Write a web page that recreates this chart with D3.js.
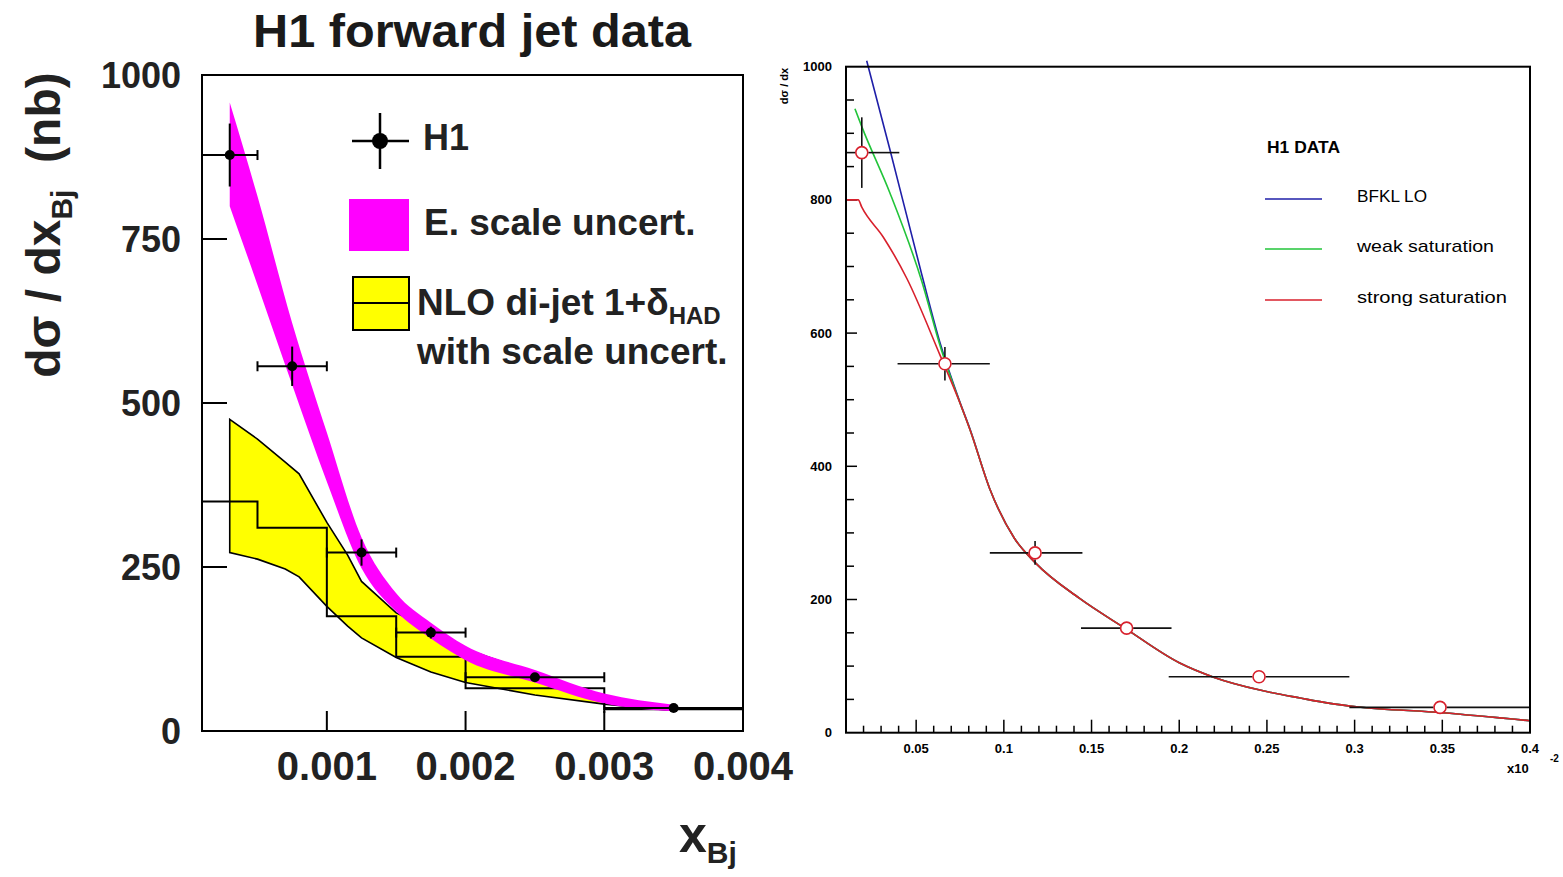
<!DOCTYPE html>
<html><head><meta charset="utf-8">
<script src="https://cdn.jsdelivr.net/npm/d3@7/dist/d3.min.js"></script>
<style>
body{margin:0;background:#fff}
svg{display:block}
text{font-family:"Liberation Sans",Arial,Helvetica,sans-serif}
</style></head>
<body><svg id="c" width="1563" height="877"></svg>
<script>
// ---------------- LEFT PANEL DATA ----------------
const leftXTicks = [0.001, 0.002, 0.003, 0.004];
const leftXTickLabels = ["0.001", "0.002", "0.003", "0.004"];
const leftYTicks = [0, 250, 500, 750, 1000];
const leftYTickLabels = ["0", "250", "500", "750", "1000"];

const h1X     = [0.0003, 0.00075, 0.00125, 0.00175, 0.0025, 0.0035];
const h1XLow  = [0.0001, 0.0005, 0.001, 0.0015, 0.002, 0.003];
const h1XHigh = [0.0005, 0.001, 0.0015, 0.002, 0.003, 0.004];
const h1Y     = [878, 556, 272, 150, 82, 35];
const h1Err   = [48, 30, 20, 9, 6, 4];

const escaleX  = [0.0003, 0.0005, 0.00075, 0.001, 0.00125, 0.0015, 0.00175, 0.002, 0.0025, 0.003, 0.0035];
const escaleUp = [958, 815, 622, 455, 295, 210, 165, 130, 93, 57, 40];
const escaleLo = [800, 680, 528, 380, 248, 182, 141, 108, 74, 42, 30];

const nloX  = [0.0003, 0.0005, 0.0007, 0.0008, 0.001, 0.00115, 0.00125, 0.0015, 0.00175, 0.002, 0.0025, 0.003, 0.0035];
const nloUp = [475, 445, 410, 392, 318, 268, 228, 180, 155, 125, 88, 52, 36];
const nloLo = [272, 262, 247, 235, 190, 160, 142, 112, 90, 74, 55, 41, 31];

const nloEdges = [0.0001, 0.0005, 0.001, 0.0015, 0.002, 0.003, 0.004];
const nloCentral = [350, 310, 175, 113, 65, 33];

// ---------------- RIGHT PANEL DATA ----------------
const rightXMajor = [0.05, 0.1, 0.15, 0.2, 0.25, 0.3, 0.35, 0.4];
const rightXLabels = ["0.05", "0.1", "0.15", "0.2", "0.25", "0.3", "0.35", "0.4"];
const rightYMajor = [0, 200, 400, 600, 800, 1000];
const rightYLabels = ["0", "200", "400", "600", "800", "1000"];

const rDataX     = [0.019, 0.0664, 0.1178, 0.17, 0.2455, 0.3487];
const rDataXLow  = [0.01, 0.0394, 0.092, 0.144, 0.194, 0.297];
const rDataXHigh = [0.0404, 0.092, 0.1448, 0.1956, 0.297, 0.4];
const rDataY     = [871, 554, 270, 157, 84, 38];
const rDataErr   = [53, 25, 18, 8, 5, 3];

const bfklX = [0.0218, 0.0351, 0.0532, 0.064, 0.075, 0.0807, 0.092, 0.106, 0.118, 0.143, 0.169, 0.2, 0.22, 0.246, 0.269, 0.286, 0.301, 0.35, 0.4];
const bfklY = [1009, 875, 688, 582, 496, 456, 366, 292, 255, 202, 157, 105, 83, 64, 52, 44, 39, 30, 18];
const weakX = [0.0151, 0.019, 0.0351, 0.0532, 0.064, 0.075, 0.0807, 0.092, 0.106, 0.118, 0.143, 0.169, 0.2, 0.22, 0.246, 0.269, 0.286, 0.301, 0.35, 0.4];
const weakY = [937, 910, 810, 678, 578, 495, 455, 366, 292, 255, 202, 157, 105, 83, 64, 52, 44, 39, 30, 18];
const strongX = [0.0104, 0.017, 0.019, 0.0313, 0.0447, 0.0636, 0.075, 0.0807, 0.092, 0.106, 0.118, 0.143, 0.169, 0.2, 0.22, 0.246, 0.269, 0.286, 0.301, 0.35, 0.4];
const strongY = [800, 800, 789, 744, 682, 567, 495, 455, 366, 292, 255, 202, 157, 105, 83, 64, 52, 44, 39, 30, 18];

const legendNames = ["BFKL LO", "weak saturation", "strong saturation"];

// ---------------- DRAW ----------------
const svg = d3.select("#c");
svg.append("rect").attr("width", 1563).attr("height", 877).attr("fill", "#fff");

// ===== LEFT =====
const xL = d3.scaleLinear().domain([0.0001, 0.004]).range([202, 743]);
const yL = d3.scaleLinear().domain([0, 1000]).range([731, 75]);
const L = svg.append("g");

L.append("text").attr("x", 472).attr("y", 47).attr("text-anchor", "middle")
  .attr("font-size", 47).attr("font-weight", "bold").attr("textLength", 438)
  .attr("lengthAdjust", "spacingAndGlyphs").attr("fill", "#1a1a1a").text("H1 forward jet data");

// yellow NLO band
const nloPts = nloX.map((x, i) => [x, nloUp[i], nloLo[i]]);
const poly = nloPts.map(d => [xL(d[0]), yL(d[1])]).concat(nloPts.slice().reverse().map(d => [xL(d[0]), yL(d[2])]));
L.append("path").attr("d", "M" + poly.join("L") + "Z")
  .attr("fill", "#ffff00").attr("stroke", "#000").attr("stroke-width", 1.6);

// NLO central step
const stepPts = [];
nloCentral.forEach((v, i) => { stepPts.push([nloEdges[i], v]); stepPts.push([nloEdges[i + 1], v]); });
L.append("path").datum(stepPts)
  .attr("d", d3.line().x(d => xL(d[0])).y(d => yL(d[1])))
  .attr("fill", "none").attr("stroke", "#000").attr("stroke-width", 2);

// magenta E-scale band
const escPts = escaleX.map((x, i) => [x, escaleUp[i], escaleLo[i]]);
L.append("path").datum(escPts)
  .attr("d", d3.area().x(d => xL(d[0])).y0(d => yL(d[2])).y1(d => yL(d[1])).curve(d3.curveMonotoneX))
  .attr("fill", "#ff00ff");

// frame
L.append("rect").attr("x", 202).attr("y", 75).attr("width", 541).attr("height", 656)
  .attr("fill", "none").attr("stroke", "#000").attr("stroke-width", 2);

// ticks
leftXTicks.forEach((t, i) => {
  if (t < 0.004) L.append("line").attr("x1", xL(t)).attr("x2", xL(t)).attr("y1", 731).attr("y2", 711)
    .attr("stroke", "#000").attr("stroke-width", 2);
  L.append("text").attr("x", xL(t)).attr("y", 780).attr("text-anchor", "middle")
    .attr("font-size", 40).attr("font-weight", "bold").attr("fill", "#222").text(leftXTickLabels[i]);
});
leftYTicks.forEach((t, i) => {
  if (t > 0 && t < 1000) L.append("line").attr("x1", 202).attr("x2", 227).attr("y1", yL(t)).attr("y2", yL(t))
    .attr("stroke", "#000").attr("stroke-width", 2);
  L.append("text").attr("x", 181).attr("y", yL(t) + 13).attr("text-anchor", "end")
    .attr("font-size", 36).attr("font-weight", "bold").attr("fill", "#222").text(leftYTickLabels[i]);
});

// axis titles
const yt = L.append("text").attr("transform", "translate(60,225) rotate(-90)").attr("text-anchor", "middle")
  .attr("font-size", 48).attr("font-weight", "bold").attr("fill", "#222");
yt.append("tspan").text("dσ / dx");
yt.append("tspan").attr("font-size", 30).attr("dy", 12).text("Bj");
yt.append("tspan").attr("dy", -12).text("\u00a0\u00a0(nb)");

const xt = L.append("text").attr("x", 679).attr("y", 852).attr("font-weight", "bold").attr("fill", "#222");
xt.append("tspan").attr("font-size", 50).text("x");
xt.append("tspan").attr("font-size", 30).attr("dy", 11).text("Bj");

// H1 data points
h1X.forEach((x, i) => {
  const cx = xL(x), cy = yL(h1Y[i]);
  const g = L.append("g").attr("stroke", "#000").attr("stroke-width", 2);
  g.append("line").attr("x1", xL(h1XLow[i])).attr("x2", xL(h1XHigh[i])).attr("y1", cy).attr("y2", cy);
  g.append("line").attr("x1", cx).attr("x2", cx).attr("y1", yL(h1Y[i] + h1Err[i])).attr("y2", yL(h1Y[i] - h1Err[i]));
  [h1XLow[i], h1XHigh[i]].forEach(e => {
    if (e > 0.0001 && e < 0.004) g.append("line").attr("x1", xL(e)).attr("x2", xL(e)).attr("y1", cy - 5).attr("y2", cy + 5);
  });
  L.append("circle").attr("cx", cx).attr("cy", cy).attr("r", 5).attr("fill", "#000");
});

// legend
const lg = L.append("g");
lg.append("line").attr("x1", 352).attr("x2", 409).attr("y1", 141).attr("y2", 141).attr("stroke", "#000").attr("stroke-width", 2.5);
lg.append("line").attr("x1", 380).attr("x2", 380).attr("y1", 113).attr("y2", 169).attr("stroke", "#000").attr("stroke-width", 2.5);
lg.append("circle").attr("cx", 380).attr("cy", 141).attr("r", 8).attr("fill", "#000");
lg.append("text").attr("x", 423).attr("y", 150).attr("font-size", 36).attr("font-weight", "bold").attr("fill", "#222").text("H1");
lg.append("rect").attr("x", 349).attr("y", 199).attr("width", 60).attr("height", 52).attr("fill", "#ff00ff");
lg.append("text").attr("x", 424).attr("y", 235).attr("font-size", 37).attr("font-weight", "bold").attr("fill", "#222").text("E. scale uncert.");
lg.append("rect").attr("x", 353).attr("y", 277).attr("width", 56).attr("height", 53).attr("fill", "#ffff00").attr("stroke", "#000").attr("stroke-width", 2);
lg.append("line").attr("x1", 353).attr("x2", 409).attr("y1", 303).attr("y2", 303).attr("stroke", "#000").attr("stroke-width", 2);
const nl = lg.append("text").attr("x", 417).attr("y", 315).attr("font-size", 37).attr("font-weight", "bold").attr("fill", "#222");
nl.append("tspan").text("NLO di-jet 1+δ");
nl.append("tspan").attr("font-size", 24).attr("dy", 9).text("HAD");
lg.append("text").attr("x", 417).attr("y", 364).attr("font-size", 37).attr("font-weight", "bold").attr("fill", "#222").text("with scale uncert.");

// ===== RIGHT =====
const xR = d3.scaleLinear().domain([0.01, 0.4]).range([846, 1530]);
const yR = d3.scaleLinear().domain([0, 1000]).range([732.7, 66.7]);
const R = svg.append("g");

const xMinor = d3.range(2, 40).map(k => k / 100);
xMinor.forEach(t => {
  const major = rightXMajor.some(m => Math.abs(m - t) < 1e-9);
  R.append("line").attr("x1", xR(t)).attr("x2", xR(t)).attr("y1", 732.7).attr("y2", 732.7 - (major ? 13 : 7))
    .attr("stroke", "#000").attr("stroke-width", 1.5);
});
const yMinor = d3.range(1, 20).map(k => k * 50);
yMinor.forEach(t => {
  const major = rightYMajor.includes(t);
  R.append("line").attr("x1", 846).attr("x2", 846 + (major ? 11 : 8)).attr("y1", yR(t)).attr("y2", yR(t))
    .attr("stroke", "#000").attr("stroke-width", 1.5);
});
rightXMajor.forEach((t, i) => {
  R.append("text").attr("x", xR(t)).attr("y", 753).attr("text-anchor", "middle")
    .attr("font-size", 13).attr("font-weight", "bold").text(rightXLabels[i]);
});
rightYMajor.forEach((t, i) => {
  R.append("text").attr("x", 832).attr("y", yR(t) + 4.5).attr("text-anchor", "end")
    .attr("font-size", 13).attr("font-weight", "bold").text(rightYLabels[i]);
});
R.append("text").attr("x", 1507).attr("y", 773).attr("font-size", 13).attr("font-weight", "bold").text("x10");
R.append("text").attr("x", 1550).attr("y", 762).attr("font-size", 10).attr("font-weight", "bold").text("-2");
R.append("text").attr("transform", "translate(788,86) rotate(-90)").attr("text-anchor", "middle")
  .attr("font-size", 11).attr("font-weight", "bold").text("dσ / dx");

// curves
const lineR = d3.line().x(d => xR(d[0])).y(d => yR(d[1])).curve(d3.curveMonotoneX);
const curves = [
  {x: bfklX, y: bfklY, c: "#1f1fa8"},
  {x: weakX, y: weakY, c: "#22c43a"},
  {x: strongX, y: strongY, c: "#d8202c"}
];
curves.forEach(cv => {
  R.append("path").datum(cv.x.map((x, i) => [x, cv.y[i]])).attr("d", lineR)
    .attr("fill", "none").attr("stroke", cv.c).attr("stroke-width", 1.6);
});

// data points
rDataX.forEach((x, i) => {
  const cx = xR(x), cy = yR(rDataY[i]);
  const g = R.append("g").attr("stroke", "#111").attr("stroke-width", 1.6);
  g.append("line").attr("x1", xR(rDataXLow[i])).attr("x2", cx - 6.5).attr("y1", cy).attr("y2", cy);
  g.append("line").attr("x1", cx + 6.5).attr("x2", xR(rDataXHigh[i])).attr("y1", cy).attr("y2", cy);
  if (rDataErr[i] * 0.666 > 6.5) {
    g.append("line").attr("x1", cx).attr("x2", cx).attr("y1", yR(rDataY[i] + rDataErr[i])).attr("y2", cy - 6.5);
    g.append("line").attr("x1", cx).attr("x2", cx).attr("y1", cy + 6.5).attr("y2", yR(rDataY[i] - rDataErr[i]));
  }
  R.append("circle").attr("cx", cx).attr("cy", cy).attr("r", 6).attr("fill", "#fff")
    .attr("stroke", "#d8202c").attr("stroke-width", 1.6);
});

// frame
R.append("rect").attr("x", 846).attr("y", 66.7).attr("width", 684).attr("height", 666)
  .attr("fill", "none").attr("stroke", "#000").attr("stroke-width", 2);

// legend
R.append("text").attr("x", 1267).attr("y", 153).attr("font-size", 16).attr("font-weight", "bold")
  .attr("textLength", 73).attr("lengthAdjust", "spacingAndGlyphs").text("H1 DATA");
const legY = [199, 249, 300];
const legW = [70, 137, 150];
curves.forEach((cv, i) => {
  R.append("line").attr("x1", 1265).attr("x2", 1322).attr("y1", legY[i]).attr("y2", legY[i])
    .attr("stroke", cv.c).attr("stroke-width", 1.6);
  R.append("text").attr("x", 1357).attr("y", legY[i] + 3).attr("font-size", 17)
    .attr("textLength", legW[i]).attr("lengthAdjust", "spacingAndGlyphs").text(legendNames[i]);
});
</script></body></html>
